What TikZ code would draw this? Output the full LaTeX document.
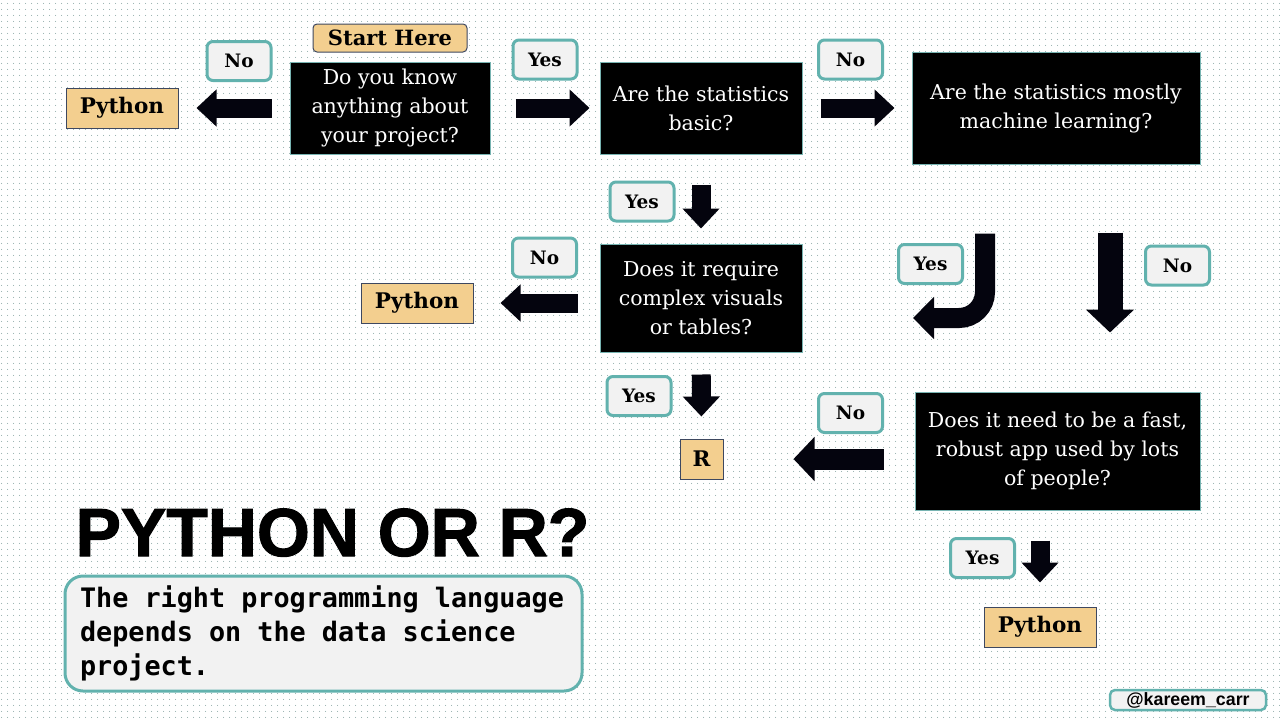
\documentclass[tikz,border=0pt]{standalone}
\usepackage{fontspec}
\setmainfont{DejaVu Serif}
\setsansfont{Liberation Sans}
\setmonofont{DejaVu Sans Mono}
\newfontfamily\titlefont[FakeBold=1.6]{Liberation Sans Bold}
\usepackage{xcolor}
\definecolor{tanbox}   {RGB}{243, 207, 143}
\definecolor{tealline} {RGB}{98, 178, 174}
\definecolor{labelbg}  {RGB}{242, 242, 242}
\definecolor{boxline}  {RGB}{62, 72, 96}
\definecolor{qline}    {RGB}{120, 180, 178}
\definecolor{arrowblk} {RGB}{4, 4, 14}
\definecolor{dotcol}   {RGB}{125, 156, 154}
\usetikzlibrary{arrows.meta, positioning, patterns.meta}

\tikzdeclarepattern{
  name=bgdots,
  type=uncolored,
  bounding box={(0pt,0pt) and (6pt,6pt)},
  tile size={(6pt,6pt)},
  code={\fill (3pt,3pt) circle (0.55pt);}
}

\tikzset{
  qbox/.style={fill=black, draw=qline, line width=1pt, text=white, align=center,
    font={\fontsize{20.5}{29}\selectfont}},
  langbox/.style={fill=tanbox, draw=boxline, line width=1pt, minimum width=112pt,
    minimum height=40pt, inner sep=0pt, font={\fontsize{21.5}{24}\selectfont\bfseries}},
  answer/.style={fill=labelbg, draw=tealline, line width=3pt, rounded corners=6pt,
    minimum width=64pt, minimum height=39pt, inner sep=0pt,
    font={\fontsize{18.5}{20}\selectfont\bfseries}},
  barrow/.style={draw=arrowblk, line width=19pt, -{Triangle[width=36pt,length=20pt]}},
  bigarrow/.style={draw=arrowblk, line width=25pt, -{Triangle[width=47pt,length=23pt]}}
}

\begin{document}
\begin{tikzpicture}[x=1pt, y=-1pt]
        \useasboundingbox (0,0) rectangle (1280,720);
        \fill[white] (0,0) rectangle (1280,720);
        \fill[pattern=bgdots, pattern color=dotcol] (0,0) rectangle (1280,720);

        \node[fill=tanbox, draw=boxline, line width=1pt, rounded corners=4pt, minimum width=154pt,
          minimum height=28pt, inner sep=0pt, font={\fontsize{21}{24}\selectfont\bfseries}] (start) at (390,38) {Start Here};

        \node[qbox, minimum width=200pt, minimum height=92pt] (q1) at (390,108) {Do you know\\anything about\\your project?};
        \node[qbox, minimum width=202pt, minimum height=92pt] (q2) at (701,108) {Are the statistics\\basic?};
        \node[qbox, minimum width=288pt, minimum height=112pt] (q3) at (1056,108) {Are the statistics mostly\\machine learning?};
        \node[qbox, minimum width=202pt, minimum height=108pt] (q4) at (701,298) {Does it require\\complex visuals\\or tables?};
        \node[qbox, minimum width=285pt, minimum height=118pt] (q5) at (1057.5,451) {Does it need to be a fast,\\robust app used by lots\\of people?};

        \foreach \n/\x/\y in {py1/122/108, py2/417/303, py3/1040/627}
            \node[langbox] (\n) at (\x,\y) {Python};
        \node[langbox, minimum width=43pt] (r) at (701.5,459) {R};

        \foreach \n/\t/\x/\y in {no1/No/239/61, yes1/Yes/545/59.5, no2/No/850.5/59.5, yes2/Yes/642/201.5,
          no3/No/544.5/257.5, yes3/Yes/639/396, yes4/Yes/930.5/264, no4/No/1177.5/265.5,
          no5/No/850.5/413, yes5/Yes/982.5/558}
            \node[answer] (\n) at (\x,\y) {\t};

        \coordinate (mlyes) at (913,318);

        \draw[barrow, shorten <=18pt, shorten >=18pt] (q1) -- (py1);
        \draw[barrow, shorten <=25pt, shorten >=10pt] (q1) -- (q2);
        \draw[barrow, shorten <=18pt, shorten >=17pt] (q2) -- (q3);
        \draw[barrow, shorten <=30pt, shorten >=15pt] (q2) -- (q4);
        \draw[barrow, shorten <=22pt, shorten >=22pt] (q4) -- (r);
        \draw[barrow, shorten <=22pt, shorten >=27pt] (q4.west |- py2) -- (py2);
        \draw[barrow, line width=20pt, -{Triangle[width=41pt,length=21pt]}, rounded corners=26pt,
          shorten <=69pt] ([xshift=-71pt]q3.south) |- (mlyes);
        \draw[bigarrow, shorten <=68pt, shorten >=59pt] ([xshift=54pt]q3.south) -- ([xshift=54pt]q3.south |- q5.north);
        \draw[barrow, line width=21pt, -{Triangle[width=43pt,length=21pt]}, shorten <=31pt, shorten >=70pt] (q5.west |- r) -- (r);
        \draw[barrow, shorten <=30pt, shorten >=24pt] (py3 |- q5.south) -- (py3);

        \node[anchor=base, inner sep=0pt, font={\fontsize{68}{72}\selectfont\titlefont}] (title) at (332.5,556) {PYTHON OR R?};
        \node[fill=labelbg, draw=tealline, line width=3pt, rounded corners=18pt, minimum width=517pt,
          minimum height=115pt, text width=487pt, inner xsep=15pt, align=left,
          font={\fontsize{26.8}{34}\selectfont\ttfamily\bfseries}] (blurb) at (323.5,633.5)
          {\spaceskip=16.13pt\xspaceskip=16.13pt The right programming language\\depends on the data science\\project.};
        \node[fill=labelbg, draw=tealline, line width=2.5pt, rounded corners=5pt, minimum width=156pt,
          minimum height=20pt, inner sep=0pt, font={\fontsize{17.8}{18}\selectfont\sffamily\bfseries}] (handle) at (1188,700) {@kareem\_carr};
    \end{tikzpicture}
\end{document}
